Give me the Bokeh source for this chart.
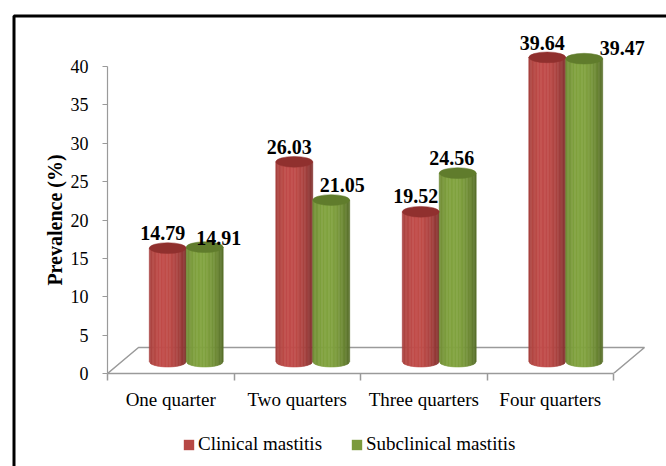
import numpy as np
from bokeh.plotting import figure
from bokeh.layouts import column
from bokeh.models import (Range1d, FixedTicker, ColumnDataSource, Legend,
                          LegendItem)
from bokeh.core.properties import value
from bokeh.embed import file_html
from bokeh.resources import INLINE

# ---------------- data ----------------
categories = ["One quarter", "Two quarters", "Three quarters", "Four quarters"]
series_names = ["Clinical mastitis", "Subclinical mastitis"]
clinical = [14.79, 26.03, 19.52, 39.64]
subclinical = [14.91, 21.05, 24.56, 39.47]
y_ticks = [0, 5, 10, 15, 20, 25, 30, 35, 40]

# ---------------- style ----------------
FONT = "Liberation Serif"
AXIS_GRAY = "#9a9a9a"
body_rgb = [(186, 74, 71), (126, 158, 62)]
top_rgb = [(144, 48, 46), (96, 124, 44)]
label_dx = [[-5, -5, -5, -5], [14, 11, -6, 38]]
label_dy = [[-15, -15, -16, -14], [-9, -15, -15, -11]]
depth_dx, depth_dy = 0.245, 3.39      # 3-D floor depth (x units, y units)
bar_w = 0.292                          # width of one cylinder (category units)
ell_h = 1.4                            # ellipse height (value units)
base_off = 1.55                        # cylinder base sits mid-depth
n_strips = 26

W, H1, H2 = 666, 420, 46               # main chart + legend strip
FL, FR, FT, FB = 107, 650, 66, 373     # plot frame edges in canvas px
BORDER_L, BORDER_T = 13.5, 15.5        # outer black frame, canvas px
LEG_X, LEG_Y = 75, 11                  # legend offset inside the strip (px)

n = len(categories)
series = [clinical, subclinical]
x_end = n * (FR - FL) / 506.0

p = figure(width=W, height=H1, output_backend="svg", toolbar_location=None,
           x_range=Range1d(0, x_end), y_range=Range1d(y_ticks[0], y_ticks[-1]),
           min_border_left=FL, min_border_right=W - FR, min_border_top=FT,
           min_border_bottom=H1 - FB)
p.xgrid.visible = False
p.ygrid.visible = False
p.outline_line_color = None
p.background_fill_color = "white"
p.border_fill_color = "white"

# ---- axes ----
xa = p.xaxis[0]
xa.ticker = FixedTicker(ticks=[i + 0.5 for i in range(n)], minor_ticks=list(range(n + 1)))
xa.bounds = (0, n)
xa.major_label_overrides = {i + 0.5: c for i, c in enumerate(categories)}
xa.major_tick_out = 0
xa.major_tick_in = 0
xa.minor_tick_out = 7
xa.minor_tick_in = 0
xa.minor_tick_line_color = AXIS_GRAY
xa.minor_tick_line_width = 1.5
xa.axis_line_color = AXIS_GRAY
xa.axis_line_width = 1.5
xa.major_label_text_font = FONT
xa.major_label_text_font_size = "19px"
xa.major_label_text_color = "black"
xa.major_label_standoff = 8

ya = p.yaxis[0]
ya.ticker = FixedTicker(ticks=y_ticks, minor_ticks=[])
ya.bounds = (y_ticks[0], y_ticks[-1])
ya.major_tick_out = 5
ya.major_tick_in = 0
ya.major_tick_line_color = AXIS_GRAY
ya.minor_tick_line_color = None
ya.axis_line_color = AXIS_GRAY
ya.axis_line_width = 1.2
ya.major_label_text_font = FONT
ya.major_label_text_font_size = "18px"
ya.major_label_text_color = "black"
ya.major_label_standoff = 14
ya.axis_label = "Prevalence (%)"
ya.axis_label_text_font = FONT
ya.axis_label_text_font_style = "bold"
ya.axis_label_text_font_size = "20px"
ya.axis_label_text_color = "black"
ya.axis_label_standoff = 2

# ---- floor ----
p.line([0, depth_dx, n + depth_dx, n], [0, depth_dy, depth_dy, 0],
       line_color=AXIS_GRAY, line_width=1.5)

# ---- cylinders ----
def shade(rgb, f):
    return "#%02x%02x%02x" % tuple(int(max(0, min(255, c * f))) for c in rgb)

xs, ys, cols = [], [], []
ex, ey, ecol = [], [], []
lx, ly, ltxt, ldx, ldy = [], [], [], [], []
for s, vals in enumerate(series):
    for i, v in enumerate(vals):
        xc = i + 0.5 + depth_dx / 2 + (s - 0.5) * bar_w
        yb = base_off
        yt = v + base_off
        edges = np.linspace(xc - bar_w / 2, xc + bar_w / 2, n_strips + 1)
        for k in range(n_strips):
            xa_, xb_ = edges[k], edges[k + 1]
            ua = (xa_ - xc) / (bar_w / 2)
            ub = (xb_ - xc) / (bar_w / 2)
            ba = yb - ell_h / 2 * np.sqrt(max(0.0, 1 - ua * ua))
            bb = yb - ell_h / 2 * np.sqrt(max(0.0, 1 - ub * ub))
            t = (k + 0.5) / n_strips
            f = 0.70 + 0.34 * max(0.0, 1 - ((t - 0.4) / 0.6) ** 2)
            xs.append([xa_, xb_, xb_, xa_])
            ys.append([yt, yt, bb, ba])
            cols.append(shade(body_rgb[s], f))
        ex.append(xc)
        ey.append(yt)
        ecol.append(shade(top_rgb[s], 1.0))
        lx.append(xc)
        ly.append(yt)
        ltxt.append(f"{v:.2f}")
        ldx.append(label_dx[s][i])
        ldy.append(label_dy[s][i])

p.patches(xs=xs, ys=ys, fill_color=cols, line_color=cols, line_width=0.6,
          level="annotation")
p.ellipse(x=ex, y=ey, width=bar_w, height=ell_h, fill_color=ecol,
          line_color=ecol, line_width=0.5, level="annotation")

lsrc = ColumnDataSource(dict(x=lx, y=ly, text=ltxt, dx=ldx, dy=ldy))
p.text(x="x", y="y", text="text", x_offset="dx", y_offset="dy", source=lsrc,
       text_font=value(FONT), text_font_style="bold", text_font_size="20px",
       text_align="center", text_baseline="middle", text_color="black",
       level="annotation")

# ---- outer black frame (canvas px converted through the scales) ----
px_x = (FR - FL) / x_end
px_y = (FB - FT) / (y_ticks[-1] - y_ticks[0])
bx = (BORDER_L - FL) / px_x
by = (FB - BORDER_T) / px_y
p.line([bx, bx, bx + 20], [by - 200, by, by], line_color="black",
       line_width=3, level="annotation")

# ---- legend strip (second figure, frame aligned with the chart) ----
p2 = figure(width=W, height=H2, output_backend="svg", toolbar_location=None,
            x_range=Range1d(0, x_end), y_range=Range1d(0, H2),
            x_axis_location=None, y_axis_location=None,
            min_border_left=FL, min_border_right=W - FR,
            min_border_top=0, min_border_bottom=0)
p2.xgrid.visible = False
p2.ygrid.visible = False
p2.outline_line_color = None
p2.border_fill_color = "white"
p2.line([bx, bx], [-10, H2 + 10], line_color="black", line_width=3,
        level="annotation")

leg_renderers = [p2.vbar(x=[0], top=[0], bottom=[0], width=0.01,
                         fill_color=shade(body_rgb[s], 0.98), line_color=None)
                 for s in range(len(series))]
legend = Legend(items=[LegendItem(label=series_names[s], renderers=[leg_renderers[s]])
                       for s in range(len(series))],
                location=(LEG_X, LEG_Y), orientation="horizontal",
                glyph_width=13, glyph_height=13, label_standoff=3, spacing=28,
                padding=0, margin=0, border_line_color=None,
                background_fill_alpha=0, label_text_font=FONT,
                label_text_font_size="19px", label_text_color="black",
                label_height=20)
p2.add_layout(legend)

layout = column(p, p2, spacing=0)
open("out.html", "w").write(file_html(layout, INLINE))
